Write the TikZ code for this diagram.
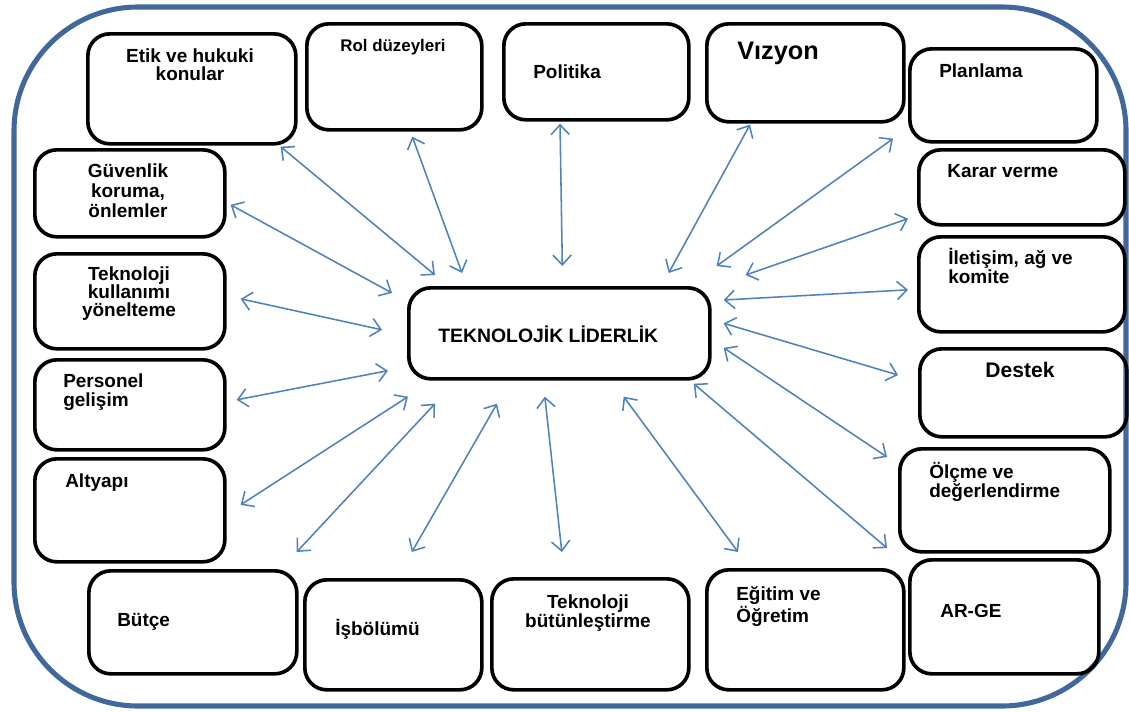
\documentclass[tikz,border=0pt]{standalone}
\usepackage{fontspec}
\setmainfont{Liberation Sans}
\usetikzlibrary{arrows.meta}
\definecolor{frameblue}{RGB}{65,104,154}
\definecolor{linkblue}{RGB}{79,129,189}

\begin{document}
\begin{tikzpicture}[x=0.025cm, y=-0.025cm,
		>={Straight Barb[length=7pt, width=13pt, line width=1.1pt]},
		bx/.style={draw=black, line width=2.6pt, rounded corners=0.55cm, anchor=north west, inner sep=0pt},
		sz/.style 2 args={minimum width=#1*0.025cm, minimum height=#2*0.025cm},
		tx/.style={font=\bfseries\fontsize{13.5}{13.5}\selectfont, inner sep=0pt, align=left},
		lk/.style={<->, linkblue, line width=1.1pt}]
		
		\useasboundingbox (0,0) rectangle (1129,711);
		
		% outer frame
		\draw[frameblue, line width=3.6pt, rounded corners=3.1cm] (14,7) rectangle (1126,706);
		
		% boxes
		\node[bx, sz={208}{110}] (etik) at (86,32) {};
		\node[bx, sz={175}{106}] (rol) at (305,22) {};
		\node[bx, sz={185}{96}] (pol) at (502,22) {};
		\node[bx, sz={197}{98}] (viz) at (705,22) {};
		\node[bx, sz={187}{93}] (plan) at (908,47) {};
		\node[bx, sz={206}{75}] (karar) at (917,148) {};
		\node[bx, sz={206}{95}] (ilet) at (917,235) {};
		\node[bx, sz={207}{88}] (destek) at (918,347) {};
		\node[bx, sz={210}{103}] (olcme) at (898,447) {};
		\node[bx, sz={189}{114}] (arge) at (908,558) {};
		\node[bx, sz={197}{120}] (egitim) at (705,568) {};
		\node[bx, sz={197}{111}] (butun) at (490,577) {};
		\node[bx, sz={177}{110}] (isbol) at (303,578) {};
		\node[bx, sz={208}{103}] (butce) at (87,569) {};
		\node[bx, sz={190}{103}] (alt) at (33,457) {};
		\node[bx, sz={190}{90}] (pers) at (33,358) {};
		\node[bx, sz={190}{95}] (kull) at (33,252) {};
		\node[bx, sz={190}{87}] (guv) at (33,148) {};
		\node[bx, sz={301}{91}] (tl) at (407,286) {};
		
		% texts (multi-line ones sit on the last line)
		\node[tx, anchor=base, align=center, font=\bfseries\fontsize{13.5}{12.2}\selectfont] (etik-t) at (190,80) {Etik ve hukuki\\konular};
		\node[tx, anchor=base, font=\bfseries\fontsize{12}{15}\selectfont] (rol-t) at (393,51) {Rol düzeyleri};
		\node[tx, anchor=base west] (pol-t) at (533,78) {Politika};
		\node[tx, anchor=base west, font=\bfseries\fontsize{18}{22}\selectfont] (viz-t) at (737,59) {Vızyon};
		\node[tx, anchor=base west] (plan-t) at (939,77) {Planlama};
		\node[tx, anchor=base west] (karar-t) at (947,177) {Karar verme};
		\node[tx, anchor=base west] (ilet-t) at (948,283) {İletişim, ağ ve\\komite};
		\node[tx, anchor=base, font=\bfseries\fontsize{15}{18}\selectfont] (destek-t) at (1020,377) {Destek};
		\node[tx, anchor=base west] (olcme-t) at (929,497) {Ölçme ve\\değerlendirme};
		\node[tx, anchor=base west] (arge-t) at (940,617) {AR-GE};
		\node[tx, anchor=base west, font=\bfseries\fontsize{13.5}{15.6}\selectfont] (egitim-t) at (736,622) {Eğitim ve\\Öğretim};
		\node[tx, anchor=base, align=center] (butun-t) at (588,627) {Teknoloji\\bütünleştirme};
		\node[tx, anchor=base west] (isbol-t) at (335,635) {İşbölümü};
		\node[tx, anchor=base west] (butce-t) at (117,626) {Bütçe};
		\node[tx, anchor=base west] (alt-t) at (65,487) {Altyapı};
		\node[tx, anchor=base west] (pers-t) at (63,406) {Personel\\gelişim};
		\node[tx, anchor=base, align=center, font=\bfseries\fontsize{13.5}{12.8}\selectfont] (kull-t) at (129,316) {Teknoloji\\kullanımı\\yönelteme};
		\node[tx, anchor=base, align=center, font=\bfseries\fontsize{13.5}{14.2}\selectfont] (guv-t) at (128,217) {Güvenlik\\koruma,\\önlemler};
		\node[tx, anchor=base west, font=\bfseries\fontsize{13.8}{16}\selectfont] (tl-t) at (438,342) {TEKNOLOJİK LİDERLİK};
		
		% links
		\draw[lk] ([shift={(-17,1)}]etik.south east) -- ([shift={(28,-11)}]tl.north west);
		\draw[lk] ([shift={(18,5)}]rol.south) -- ([shift={(55,-13)}]tl.north west);
		\draw[lk] ([shift={(58,2)}]pol.south west) -- ([shift={(3,-20)}]tl.north);
		\draw[lk] ([shift={(45,1)}]viz.south west) -- ([shift={(-43,-13)}]tl.north east);
		\draw[lk] ([shift={(-15,-5)}]plan.south west) -- ([shift={(5,-20)}]tl.north east);
		\draw[lk] ([shift={(-9,-8)}]karar.south west) -- ([shift={(34,-11)}]tl.north east);
		\draw[lk] ([shift={(-9,5.5)}]ilet.west) -- ([shift={(12,14)}]tl.north east);
		\draw[lk] ([shift={(-20,28)}]destek.north west) -- ([shift={(12,-10)}]tl.east);
		\draw[lk] ([shift={(-11,10)}]olcme.north west) -- ([shift={(12,14.5)}]tl.east);
		\draw[lk] ([shift={(-21,-10)}]arge.north west) -- ([shift={(-18,3)}]tl.south east);
		\draw[lk] ([shift={(33,-16)}]egitim.north west) -- ([shift={(-88,16)}]tl.south east);
		\draw[lk] ([shift={(-28.5,-25)}]butun.north) -- ([shift={(-14.5,16)}]tl.south);
		\draw[lk] ([shift={(18.5,-26)}]isbol.north) -- ([shift={(90,23)}]tl.south west);
		\draw[lk] ([shift={(-2,-17)}]butce.north east) -- ([shift={(28,23)}]tl.south west);
		\draw[lk] ([shift={(14,-5.5)}]alt.east) -- ([shift={(1,16)}]tl.south west);
		\draw[lk] ([shift={(10,-5)}]pers.east) -- ([shift={(-19,-10)}]tl.south west);
		\draw[lk] ([shift={(14,-2.5)}]kull.east) -- ([shift={(-25,-3.5)}]tl.west);
		\draw[lk] ([shift={(4,11.5)}]guv.east) -- ([shift={(-15,7)}]tl.north west);
		
	\end{tikzpicture}
\end{document}
